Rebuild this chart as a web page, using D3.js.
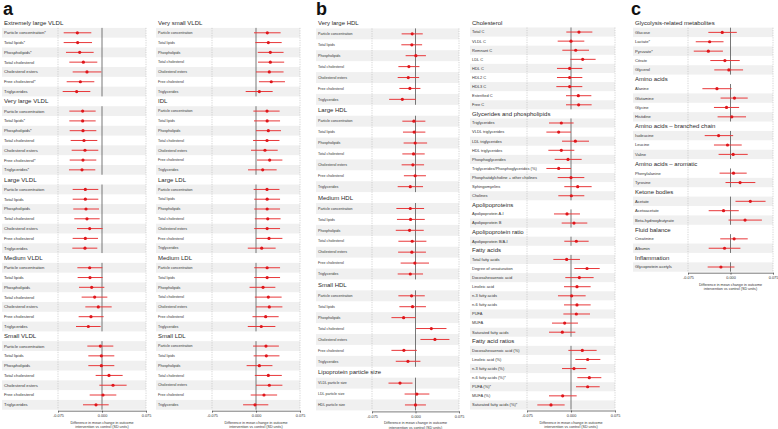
<!DOCTYPE html>
<html><head><meta charset="utf-8">
<script src="https://cdn.jsdelivr.net/npm/d3@7"></script>
<style>body{margin:0;background:#fff} svg{display:block;font-family:"Liberation Sans",Arial,Helvetica,sans-serif}</style>
</head><body><svg id="chart" width="778" height="429"></svg>
<script>
// ---------- shared ----------
const tickValues = [-0.075, 0, 0.075];
const axisTitle = ["Difference in mean change in outcome", "intervention vs control (SD units)"];
const panelLetters = ["a", "b", "c"];
const lipidRows = ["Particle concentration","Total lipids","Phospholipids","Total cholesterol","Cholesterol esters","Free cholesterol","Triglycerides"];

// ---------- panel a, column 1 ----------
const a1Groups = ["Extremely large VLDL","Very large VLDL","Large VLDL","Medium VLDL","Small VLDL"];
const a1Labels = [
  ["Particle concentration*","Total lipids*","Phospholipids*","Total cholesterol","Cholesterol esters","Free cholesterol*","Triglycerides"],
  ["Particle concentration","Total lipids*","Phospholipids*","Total cholesterol","Cholesterol esters","Free cholesterol*","Triglycerides*"],
  lipidRows, lipidRows, lipidRows];
const a1Est = [
  [-0.042,-0.0415,-0.038,-0.0318,-0.0256,-0.0369,-0.0432],
  [-0.033,-0.033,-0.0324,-0.0307,-0.029,-0.0324,-0.0341],
  [-0.0284,-0.0284,-0.0273,-0.0256,-0.021,-0.0284,-0.029],
  [-0.021,-0.0205,-0.0176,-0.0125,-0.0063,-0.0188,-0.0233],
  [-0.0028,-0.0011,-0.0011,0.0119,0.0188,0.0017,-0.0102]];
const a1Lo = [
  [-0.0653,-0.0653,-0.0614,-0.0557,-0.05,-0.0602,-0.067],
  [-0.0557,-0.0557,-0.0551,-0.0534,-0.0517,-0.0551,-0.0563],
  [-0.05,-0.05,-0.0489,-0.0472,-0.0426,-0.05,-0.0506],
  [-0.042,-0.0415,-0.0392,-0.0347,-0.0284,-0.0398,-0.0443],
  [-0.025,-0.0233,-0.0233,-0.0108,-0.0045,-0.021,-0.0324]];
const a1Hi = [
  [-0.0182,-0.017,-0.0142,-0.008,-0.0011,-0.0131,-0.0199],
  [-0.0108,-0.0108,-0.0097,-0.008,-0.0063,-0.0097,-0.0114],
  [-0.0063,-0.0063,-0.0051,-0.004,0.0011,-0.0068,-0.008],
  [0.0006,0.0011,0.004,0.0091,0.0165,0.0028,-0.0023],
  [0.0193,0.021,0.021,0.0352,0.042,0.0244,0.0114]];

// ---------- panel a, column 2 ----------
const a2Groups = ["Very small VLDL","IDL","Large LDL","Medium LDL","Small LDL"];
const a2Labels = [lipidRows, lipidRows, lipidRows, lipidRows, lipidRows];
const a2Est = [
  [0.0193,0.021,0.0244,0.0244,0.0227,0.026,0.0057],
  [0.0188,0.019,0.021,0.0188,0.0153,0.0233,0.0114],
  [0.0188,0.019,0.019,0.02,0.019,0.0222,0.0097],
  [0.019,0.019,0.012,0.021,0.0227,0.0165,0.009],
  [0.017,0.0176,0.0057,0.021,0.0227,0.0136,-0.0017]];
const a2Lo = [
  [-0.0034,-0.0012,0.003,0.0034,0,0.005,-0.0176],
  [-0.0045,-0.0034,0,-0.005,-0.0085,0.0017,-0.0136],
  [-0.004,-0.003,-0.003,-0.002,-0.003,0,-0.014],
  [-0.003,-0.003,-0.011,-0.002,0,-0.006,-0.014],
  [-0.005,-0.004,-0.016,-0.002,0,-0.009,-0.022]];
const a2Hi = [
  [0.042,0.0438,0.047,0.048,0.047,0.0494,0.0284],
  [0.0403,0.041,0.0426,0.04,0.037,0.045,0.0352],
  [0.04,0.041,0.041,0.042,0.041,0.045,0.0335],
  [0.041,0.041,0.033,0.0437,0.045,0.0386,0.033],
  [0.039,0.04,0.028,0.044,0.045,0.036,0.021]];

// ---------- panel b, column 1 ----------
const b1Groups = ["Very large HDL","Large HDL","Medium HDL","Small HDL","Lipoprotein particle size"];
const b1Labels = [lipidRows, lipidRows, lipidRows, lipidRows, ["VLDL particle size","LDL particle size","HDL particle size"]];
const b1Est = [
  [-0.0057,-0.0063,0.0006,-0.0114,-0.0125,-0.0097,-0.0227],
  [-0.0028,-0.0023,-0.0006,-0.0034,-0.0045,-0.0006,-0.009],
  [-0.009,-0.0085,-0.0102,-0.0057,-0.0063,-0.0011,-0.009],
  [-0.0068,-0.0051,-0.0205,0.0273,0.0335,-0.02,-0.013],
  [-0.0267,0.0023,0]];
const b1Lo = [
  [-0.0239,-0.0244,-0.017,-0.0295,-0.0307,-0.0278,-0.0455],
  [-0.0227,-0.0216,-0.0205,-0.0227,-0.0239,-0.02,-0.0307],
  [-0.033,-0.032,-0.034,-0.0295,-0.03,-0.0256,-0.0307],
  [-0.0295,-0.0278,-0.0415,0.0011,0.0085,-0.0415,-0.034],
  [-0.0466,-0.0188,-0.0182]];
const b1Hi = [
  [0.0125,0.0114,0.018,0.0068,0.0063,0.0085,0.0006],
  [0.017,0.017,0.02,0.0159,0.0148,0.018,0.013],
  [0.0148,0.016,0.0142,0.0188,0.018,0.0233,0.013],
  [0.016,0.018,0.0006,0.0534,0.0585,0.0023,0.0085],
  [-0.0051,0.0239,0.018]];

// ---------- panel b, column 2 ----------
const b2Groups = ["Cholesterol","Glycerides and phospholipids","Apolipoproteins","Apolipoprotein ratio","Fatty acids","Fatty acid ratios"];
const b2Labels = [
  ["Total C","VLDL C","Remnant C","LDL C","HDL C","HDL2 C","HDL3 C","Esterified C","Free C"],
  ["Triglycerides","VLDL triglycerides","LDL triglycerides","HDL triglycerides","Phosphoglycerides","Triglycerides/Phosphoglycerides (%)","Phosphatidylcholine + other cholines","Sphingomyelins","Cholines"],
  ["Apolipoprotein A-I","Apolipoprotein B"],
  ["Apolipoprotein B/A-I"],
  ["Total fatty acids","Degree of unsaturation","Docosahexaenoic acid","Linoleic acid","n-3 fatty acids","n-6 fatty acids","PUFA","MUFA","Saturated fatty acids"],
  ["Docosahexaenoic acid (%)","Linoleic acid (%)","n-3 fatty acids (%)","n-6 fatty acids (%)*","PUFA (%)*","MUFA (%)","Saturated fatty acids (%)*"]];
const b2Est = [
  [0.0136,0,0.008,0.0199,-0.0023,-0.0023,-0.0023,0.0125,0.013],
  [-0.0165,-0.021,0.0074,-0.0165,-0.0051,-0.021,0,0.0114,0.0006],
  [-0.0068,0.0051],
  [0.0091],
  [-0.0074,0.0273,0.0142,0.0102,0.0011,0.0102,0.0091,-0.0108,-0.0148],
  [0.0193,0.0284,0.0051,0.0312,0.0284,-0.0142,-0.0341]];
const b2Lo = [
  [-0.008,-0.0227,-0.0148,-0.0011,-0.0239,-0.0239,-0.025,-0.0085,-0.0085],
  [-0.0375,-0.042,-0.0153,-0.0386,-0.0278,-0.042,-0.0227,-0.0114,-0.0216],
  [-0.029,-0.0159],
  [-0.0114],
  [-0.0301,0.0057,-0.0097,-0.0119,-0.0222,-0.0119,-0.013,-0.0324,-0.0375],
  [-0.0045,0.0074,-0.0153,0.0108,0.0085,-0.0375,-0.0574]];
const b2Hi = [
  [0.0364,0.0227,0.0307,0.042,0.0193,0.0193,0.0193,0.0347,0.0352],
  [0.0045,0,0.0307,0.0057,0.0182,0,0.0227,0.0352,0.0227],
  [0.0153,0.0278],
  [0.0301],
  [0.0153,0.0489,0.0386,0.0335,0.025,0.0335,0.0324,0.0119,0.0074],
  [0.0437,0.05,0.0261,0.0517,0.0489,0.0097,-0.0108]];

// ---------- panel c ----------
const cGroups = ["Glycolysis-related metabolites","Amino acids","Amino acids \u2013 branched chain","Amino acids \u2013 aromatic","Ketone bodies","Fluid balance","Inflammation"];
const cLabels = [
  ["Glucose","Lactate*","Pyruvate*","Citrate","Glycerol"],
  ["Alanine","Glutamine","Glycine","Histidine"],
  ["Isoleucine","Leucine","Valine"],
  ["Phenylalanine","Tyrosine"],
  ["Acetate","Acetoacetate","Beta-hydroxybutyrate"],
  ["Creatinine","Albumin"],
  ["Glycoprotein acetyls"]];
const cEst = [
  [-0.0146,-0.0368,-0.0391,-0.0099,-0.0029],
  [-0.0239,0.007,-0.007,0.0023],
  [-0.021,-0.0053,0.0047],
  [0.0053,0.0169],
  [0.035,-0.0123,0.0257],
  [0.0064,-0.0105],
  [-0.0169]];
const cLo = [
  [-0.0391,-0.0613,-0.0648,-0.0356,-0.0286],
  [-0.0496,-0.0175,-0.0292,-0.0228],
  [-0.0455,-0.0292,-0.021],
  [-0.0193,-0.0088],
  [0.0088,-0.0385,-0.0035],
  [-0.0181,-0.0385],
  [-0.0403]];
const cHi = [
  [0.0111,-0.0123,-0.0134,0.0163,0.0222],
  [0.0018,0.0304,0.0152,0.0274],
  [0.0047,0.0198,0.0304],
  [0.0286,0.0438],
  [0.0619,0.0146,0.0554],
  [0.0304,0.0175],
  [0.007]];

// ---------- layout (positions only) ----------
const columns = [
  {groups:a1Groups, labels:a1Labels, est:a1Est, lo:a1Lo, hi:a1Hi, labelX:4,   x0:58,  x1:146, top:18.1, bottom:409.7, lFont:4.2, hFont:6.1},
  {groups:a2Groups, labels:a2Labels, est:a2Est, lo:a2Lo, hi:a2Hi, labelX:158, x0:212, x1:300, top:18.1, bottom:409.7, lFont:3.6, hFont:6.0},
  {groups:b1Groups, labels:b1Labels, est:b1Est, lo:b1Lo, hi:b1Hi, labelX:318, x0:372, x1:459, top:17.5, bottom:410.4, lFont:3.6, hFont:6.0},
  {groups:b2Groups, labels:b2Labels, est:b2Est, lo:b2Lo, hi:b2Hi, labelX:472, x0:527, x1:615, top:18.4, bottom:409.5, lFont:4.0, hFont:6.0},
  {groups:cGroups,  labels:cLabels,  est:cEst,  lo:cLo,  hi:cHi,  labelX:635, x0:688, x1:773, top:18.3, bottom:271.7, lFont:4.1, hFont:6.0}
];
const letterPos = [{x:3, y:15}, {x:316, y:15}, {x:631, y:15}];

const svg = d3.select("#chart");
const RED = "#e0161b", LINE = "#e8383a", STRIPE = "#f0f0f0";

columns.forEach(col => {
  const rows = [];
  let slot = 0;
  col.groups.forEach((g, gi) => {
    rows.push({type:"h", text:g, slot:slot++, gi});
    const n = col.labels[gi].length;
    col.labels[gi].forEach((lab, ri) => rows.push({
      type:"r", text:lab, slot:slot++, gi, ri, n,
      est:col.est[gi][ri], lo:col.lo[gi][ri], hi:col.hi[gi][ri]}));
  });
  const y = d3.scaleBand().domain(d3.range(slot)).range([col.top, col.bottom]);
  const h = y.bandwidth();
  const x = d3.scaleLinear().domain([-0.075, 0.075]).range([col.x0, col.x1]);
  const g = svg.append("g");
  const data = rows.filter(r => r.type === "r");

  // stripes (last row of each group shaded, alternating upward)
  g.selectAll("rect.stripe").data(data.filter(r => (r.n - 1 - r.ri) % 2 === 0))
    .join("rect").attr("class","stripe")
    .attr("x", col.labelX - 2).attr("width", col.x1 - col.labelX + 2)
    .attr("y", r => y(r.slot)).attr("height", h).attr("fill", STRIPE);

  // dashed reference lines
  const firstRowTop = y(1);
  g.selectAll("line.dash").data([-0.075, 0.075]).join("line")
    .attr("x1", d => x(d)).attr("x2", d => x(d))
    .attr("y1", firstRowTop).attr("y2", col.bottom)
    .attr("stroke", "#b8b8b8").attr("stroke-width", 0.6).attr("stroke-dasharray", "1.2,1.2");

  // zero line per group
  const groupSpans = col.groups.map((gname, gi) => {
    const rs = data.filter(r => r.gi === gi);
    return {top: y(rs[0].slot), bot: y(rs[rs.length - 1].slot) + h};
  });
  g.selectAll("line.zero").data(groupSpans).join("line")
    .attr("x1", x(0)).attr("x2", x(0)).attr("y1", d => d.top).attr("y2", d => d.bot)
    .attr("stroke", "#555").attr("stroke-width", 0.8);

  // CIs
  g.selectAll("line.ci").data(data).join("line")
    .attr("x1", r => x(r.lo)).attr("x2", r => x(r.hi))
    .attr("y1", r => y(r.slot) + h / 2).attr("y2", r => y(r.slot) + h / 2)
    .attr("stroke", LINE).attr("stroke-width", 1);
  // points
  g.selectAll("circle.pt").data(data).join("circle")
    .attr("cx", r => x(r.est)).attr("cy", r => y(r.slot) + h / 2).attr("r", 1.6)
    .attr("fill", RED);

  // labels
  g.selectAll("text.lab").data(rows).join("text")
    .attr("x", col.labelX).attr("y", r => y(r.slot) + h / 2)
    .attr("dy", "0.35em")
    .attr("font-size", r => r.type === "h" ? col.hFont : col.lFont)
    .attr("fill", r => r.type === "h" ? "#2a2a2a" : "#333")
    .text(r => r.text);

  // axis
  const axisY = col.bottom + 1;
  const ax = g.append("g").attr("transform", `translate(0,${axisY})`)
    .call(d3.axisBottom(x).tickValues(tickValues).tickFormat(d => d.toFixed(3)).tickSize(2).tickSizeOuter(0).tickPadding(1.5));
  ax.select(".domain").attr("stroke", "#222").attr("stroke-width", 0.6);
  ax.selectAll(".tick line").attr("stroke", "#222").attr("stroke-width", 0.6);
  ax.selectAll(".tick text").attr("font-size", 3.8).attr("fill", "#333").attr("font-family", null);

  g.selectAll("text.at").data(axisTitle).join("text")
    .attr("x", (col.x0 + col.x1) / 2).attr("y", (d, i) => axisY + 13 + i * 4.4)
    .attr("text-anchor", "middle").attr("font-size", 3.7).attr("fill", "#333")
    .text(d => d);
});

svg.selectAll("text.letter").data(panelLetters).join("text")
  .attr("x", (d, i) => letterPos[i].x).attr("y", (d, i) => letterPos[i].y)
  .attr("font-size", 18).attr("font-weight", "bold").attr("fill", "#111")
  .text(d => d);
</script>
</body></html>
